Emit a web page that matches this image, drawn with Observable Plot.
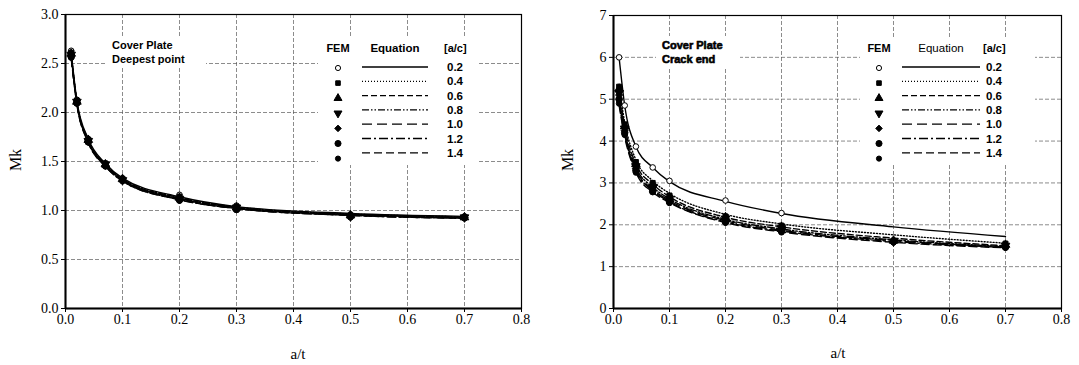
<!DOCTYPE html>
<html><head><meta charset="utf-8">
<script src="https://cdn.jsdelivr.net/npm/d3@7"></script>
<script src="https://cdn.jsdelivr.net/npm/@observablehq/plot@0.6"></script>
<style>
body{margin:0;background:#fff;}
#wrap{position:relative;width:1079px;height:365px;overflow:hidden;}
#left{position:absolute;left:0;top:0;}
#right{position:absolute;left:540px;top:0;}
</style></head>
<body><div id="wrap"><div id="left"></div><div id="right"></div></div>
<script>
// ---------- data ----------
const aOverT = [0.01, 0.02, 0.04, 0.07, 0.1, 0.2, 0.3, 0.5, 0.7];
const aOverC = ["0.2", "0.4", "0.6", "0.8", "1.0", "1.2", "1.4"];
const xTicks = [0, 0.1, 0.2, 0.3, 0.4, 0.5, 0.6, 0.7, 0.8];
const leftYTicks = [0, 0.5, 1, 1.5, 2, 2.5, 3];
const rightYTicks = [0, 1, 2, 3, 4, 5, 6, 7];

// Deepest point — equation curves (rows = a/c)
const leftEq = [
  [2.62, 2.12, 1.73, 1.48, 1.33, 1.14, 1.04, 0.97, 0.94],
  [2.60, 2.11, 1.72, 1.47, 1.32, 1.13, 1.035, 0.965, 0.935],
  [2.59, 2.10, 1.71, 1.47, 1.32, 1.13, 1.03, 0.96, 0.93],
  [2.58, 2.10, 1.71, 1.46, 1.31, 1.12, 1.03, 0.96, 0.93],
  [2.57, 2.09, 1.70, 1.46, 1.31, 1.12, 1.02, 0.955, 0.925],
  [2.56, 2.09, 1.70, 1.45, 1.30, 1.11, 1.02, 0.95, 0.92],
  [2.55, 2.08, 1.69, 1.45, 1.30, 1.11, 1.02, 0.95, 0.92]
];
// Deepest point — FEM points
const leftFem = [
  [2.63, 2.13, 1.73, 1.48, 1.33, 1.16, 1.05, 0.96, 0.94],
  [2.61, 2.12, 1.72, 1.48, 1.32, 1.14, 1.04, 0.95, 0.93],
  [2.60, 2.11, 1.72, 1.47, 1.32, 1.13, 1.03, 0.95, 0.93],
  [2.59, 2.11, 1.71, 1.47, 1.31, 1.12, 1.03, 0.94, 0.93],
  [2.58, 2.10, 1.71, 1.46, 1.31, 1.12, 1.02, 0.94, 0.93],
  [2.57, 2.10, 1.70, 1.46, 1.31, 1.11, 1.01, 0.94, 0.93],
  [2.56, 2.09, 1.70, 1.45, 1.30, 1.10, 1.01, 0.93, 0.92]
];
// Crack end — equation curves
const rightEq = [
  [6.00, 4.85, 3.87, 3.37, 3.03, 2.56, 2.27, 1.95, 1.72],
  [5.30, 4.45, 3.55, 3.05, 2.75, 2.25, 2.02, 1.76, 1.56],
  [5.20, 4.35, 3.45, 2.97, 2.67, 2.18, 1.95, 1.68, 1.50],
  [5.10, 4.25, 3.38, 2.90, 2.62, 2.13, 1.90, 1.64, 1.48],
  [5.00, 4.20, 3.32, 2.85, 2.58, 2.10, 1.87, 1.62, 1.47],
  [4.90, 4.15, 3.28, 2.82, 2.55, 2.07, 1.85, 1.60, 1.46],
  [4.85, 4.10, 3.25, 2.78, 2.53, 2.05, 1.83, 1.58, 1.45]
];
// Crack end — FEM points
const rightFem = [
  [6.00, 4.85, 3.87, 3.37, 3.05, 2.58, 2.28, null, null],
  [5.30, 4.40, 3.50, 3.00, 2.70, 2.20, 1.98, 1.62, 1.55],
  [5.25, 4.35, 3.45, 2.95, 2.65, 2.18, 1.95, 1.62, 1.52],
  [5.15, 4.30, 3.40, 2.90, 2.62, 2.15, 1.92, 1.60, 1.50],
  [5.10, 4.25, 3.35, 2.85, 2.58, 2.10, 1.88, 1.60, 1.48],
  [5.00, 4.20, 3.30, 2.80, 2.55, 2.07, 1.85, 1.60, 1.47],
  [4.90, 4.15, 3.25, 2.78, 2.52, 2.05, 1.82, 1.58, 1.45]
];

// ---------- styles ----------
const SERIF = "'Liberation Serif', 'DejaVu Serif', 'Times New Roman', serif";
const SANS = "'Liberation Sans', Arial, sans-serif";
const dashes = [null, "1,2", "6,3", "7,2,1.5,2,1.5,2", "10,5", "9,3,2,3", "8,4"];
const symbols = ["circle", "square", "triangle", "triangle", "diamond2", "circle", "circle"];
const rotates = [0, 0, 0, 180, 0, 0, 0];
const fills = ["white", "black", "black", "black", "black", "black", "black"];
const radii = [2.8, 2.8, 3.2, 3.2, 3.2, 3.3, 2.8];

function toRows(mat) {
  const rows = [];
  mat.forEach((s, k) => s.forEach((v, j) => { if (v != null) rows.push({x: aOverT[j], y: v, k}); }));
  return rows;
}

function panel(cfg) {
  const eqRows = toRows(cfg.eq), femRows = toRows(cfg.fem);
  const marks = [
    Plot.gridX(xTicks, {stroke: "#555", strokeOpacity: 0.85, strokeWidth: 0.8, strokeDasharray: "4,2"}),
    Plot.gridY(cfg.yTicks, {stroke: "#555", strokeOpacity: 0.85, strokeWidth: 0.8, strokeDasharray: "4,2"}),
    Plot.frame({stroke: "#000", strokeWidth: 1.2}),
    Plot.ruleX([0], {stroke: "#000", strokeWidth: 2}),
    Plot.ruleY([0], {stroke: "#000", strokeWidth: 2}),
    Plot.axisX(xTicks, {tickFormat: d3.format(".1f"), tickSize: 4, tickPadding: 2, label: null,
      fontSize: 14, fontFamily: SERIF}),
    Plot.axisY(cfg.yTicks, {tickFormat: cfg.yFmt, tickSize: 4, tickPadding: 3, label: null,
      fontSize: 14, fontFamily: SERIF})
  ];
  aOverC.forEach((c, i) => {
    marks.push(Plot.line(eqRows.filter(d => d.k === i), {
      x: "x", y: "y", stroke: "#000", strokeWidth: 1.4,
      strokeDasharray: dashes[i], curve: "monotone-x"
    }));
  });
  aOverC.forEach((c, i) => {
    marks.push(Plot.dot(femRows.filter(d => d.k === i), {
      x: "x", y: "y", symbol: symbols[i], r: radii[i], rotate: rotates[i],
      fill: fills[i], stroke: "#000", strokeWidth: 1
    }));
  });
  return Plot.plot({
    width: cfg.width, height: 365,
    marginLeft: cfg.ml, marginRight: cfg.mr, marginTop: cfg.mt, marginBottom: cfg.mb,
    x: {domain: [0, 0.8]},
    y: {domain: cfg.yDomain},
    style: {fontFamily: SERIF, fontSize: "14px", color: "#000", background: "white", overflow: "visible"},
    marks
  });
}

function decorate(svg, L) {
  const g = d3.select(svg).append("g").attr("text-anchor", "start");
  // axis labels
  g.append("text").attr("transform", `translate(${L.mkX},${L.mkY}) rotate(-90)`)
    .attr("text-anchor", "middle").style("font-family", SERIF)
    .attr("font-size", 16).attr("fill", "#000").text("Mk");
  g.append("text").attr("x", L.atX).attr("y", L.atY)
    .attr("text-anchor", "middle").style("font-family", SERIF)
    .attr("font-size", 15).attr("fill", "#000").text("a/t");
  // title box
  g.append("rect").attr("x", L.tx - 6).attr("y", 36).attr("width", L.tw).attr("height", 32).attr("fill", "white");
  L.title.forEach((t, i) => {
    g.append("text").attr("x", L.tx).attr("y", 49 + i * 14).style("font-family", SANS)
      .attr("text-anchor", "start")
      .attr("font-weight", "bold").attr("font-size", 11).attr("fill", "#000")
      .attr("stroke", L.heavy ? "#000" : "none").attr("stroke-width", L.heavy ? 0.6 : 0)
      .text(t);
  });
  // legend box
  g.append("rect").attr("x", L.lx).attr("y", 37).attr("width", L.lw).attr("height", 128).attr("fill", "white");
  g.append("text").attr("x", L.mx).attr("y", 52).attr("text-anchor", "middle").style("font-family", SANS)
    .attr("font-weight", "bold").attr("font-size", 11).text("FEM");
  g.append("text").attr("x", (L.l0 + L.l1) / 2).attr("y", 52).attr("text-anchor", "middle").style("font-family", SANS)
    .attr("font-weight", L.heavy ? "normal" : "bold").attr("font-size", 11.5).text("Equation");
  g.append("text").attr("x", L.cx - 3).attr("y", 52).attr("text-anchor", "start").style("font-family", SANS)
    .attr("font-weight", "bold").attr("font-size", 11).text("[a/c]");
  const symMap = {circle: d3.symbolCircle, square: d3.symbolSquare, triangle: d3.symbolTriangle, diamond2: d3.symbolDiamond2};
  aOverC.forEach((c, i) => {
    const ly = 67 + i * 14.3;
    g.append("line").attr("x1", L.l0).attr("x2", L.l1).attr("y1", ly).attr("y2", ly)
      .attr("stroke", "#000").attr("stroke-width", 1.3).attr("stroke-dasharray", dashes[i]);
    g.append("text").attr("x", L.cx).attr("y", ly + 4).attr("text-anchor", "start").style("font-family", SANS)
      .attr("font-weight", "bold").attr("font-size", 11.5).text(c);
    const my = 68 + i * 15.1;
    g.append("path").attr("d", d3.symbol(symMap[symbols[i]], Math.PI * radii[i] * radii[i] * 0.85)())
      .attr("transform", `translate(${L.mx},${my}) rotate(${rotates[i]})`)
      .attr("fill", fills[i]).attr("stroke", "#000").attr("stroke-width", 1);
  });
}

const leftSvg = panel({eq: leftEq, fem: leftFem, yDomain: [0, 3], yTicks: leftYTicks, yFmt: d3.format(".1f"),
  width: 540, ml: 65, mr: 19, mt: 14, mb: 57});
decorate(leftSvg, {mkX: 21, mkY: 160, atX: 298, atY: 359, tx: 112, tw: 100, title: ["Cover Plate", "Deepest point"],
  heavy: false, lx: 318, lw: 160, mx: 338, l0: 362, l1: 428, cx: 447});
document.getElementById("left").appendChild(leftSvg);

const rightSvg = panel({eq: rightEq, fem: rightFem, yDomain: [0, 7], yTicks: rightYTicks, yFmt: d3.format("d"),
  width: 539, ml: 73, mr: 18, mt: 15, mb: 57});
decorate(rightSvg, {mkX: 33, mkY: 160, atX: 298, atY: 358, tx: 122, tw: 84, title: ["Cover Plate", "Crack end"],
  heavy: true, lx: 320, lw: 175, mx: 339, l0: 362, l1: 440, cx: 446});
document.getElementById("right").appendChild(rightSvg);
</script>
</body></html>
